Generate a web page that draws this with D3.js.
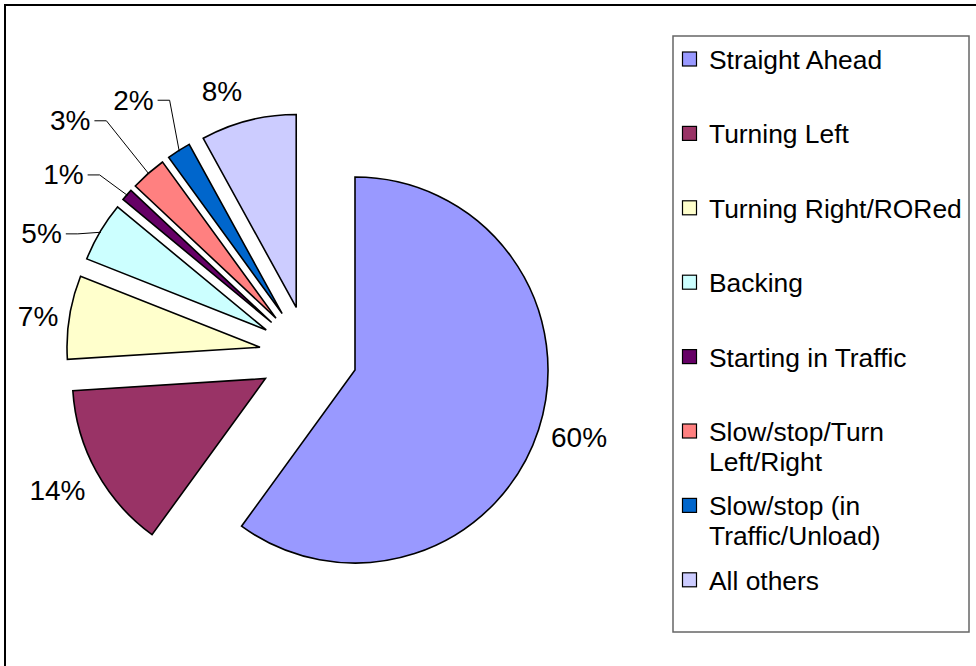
<!DOCTYPE html>
<html>
<head>
<meta charset="utf-8">
<script src="https://cdn.jsdelivr.net/npm/d3@7"></script>
<style>
  body { margin: 0; background: #fff; }
  text { font-family: "Liberation Sans", Arial, sans-serif; fill: #000; }
</style>
</head>
<body>
<svg id="chart" width="976" height="666"></svg>
<script>
// Share of incidents by vehicle manoeuvre (percent)
const categories = [
  "Straight Ahead",
  "Turning Left",
  "Turning Right/RORed",
  "Backing",
  "Starting in Traffic",
  "Slow/stop/Turn Left/Right",
  "Slow/stop (in Traffic/Unload)",
  "All others"
];
const values = [60, 14, 7, 5, 1, 3, 2, 8];
const colors = ["#9999FF", "#993366", "#FFFFCC", "#CCFFFF", "#660066", "#FF8080", "#0066CC", "#CCCCFF"];
const legendLines = [
  ["Straight Ahead"],
  ["Turning Left"],
  ["Turning Right/RORed"],
  ["Backing"],
  ["Starting in Traffic"],
  ["Slow/stop/Turn", "Left/Right"],
  ["Slow/stop (in", "Traffic/Unload)"],
  ["All others"]
];

// Layout
const W = 976, H = 666;
const cx = 308.4, cy = 354.9;   // pie centre before explosion
const radius = 193;
const explode = 49;
// label placement: angle shift (degrees) and distance from pie centre
const labelShift  = [-1, 0.5, -1, -6.2, -5.1, -4.1, -2.1, -3.8];
const labelRadius = [283, 285, 273, 293, 304, 334, 309, 277];
const hasLeader   = [false, false, false, true, true, true, true, false];

const svg = d3.select("#chart");

// outer frame (top and left edges visible)
svg.append("rect")
  .attr("x", 5).attr("y", 5)
  .attr("width", W + 20).attr("height", H + 20)
  .attr("fill", "#fff")
  .attr("stroke", "#000")
  .attr("stroke-width", 2);

const pie = d3.pie().sort(null).value(d => d)
  .startAngle(0).endAngle(2 * Math.PI);
const arcs = pie(values);
const arc = d3.arc().innerRadius(0).outerRadius(radius);

const dir = a => [Math.sin(a), -Math.cos(a)];
const mid = d => (d.startAngle + d.endAngle) / 2;

const g = svg.append("g").attr("transform", `translate(${cx},${cy})`);

g.selectAll("path.slice")
  .data(arcs)
  .join("path")
  .attr("class", "slice")
  .attr("transform", d => {
    const [dx, dy] = dir(mid(d));
    return `translate(${dx * explode},${dy * explode})`;
  })
  .attr("d", arc)
  .attr("fill", (d, i) => colors[i])
  .attr("stroke", "#000")
  .attr("stroke-width", 1.6)
  .attr("stroke-linejoin", "miter");

// data labels
const labelG = g.append("g");
arcs.forEach((d, i) => {
  const a = mid(d) + labelShift[i] * Math.PI / 180;
  const [ux, uy] = dir(a);
  const lx = ux * labelRadius[i], ly = uy * labelRadius[i];
  const t = labelG.append("text")
    .attr("x", lx).attr("y", ly)
    .attr("text-anchor", "middle")
    .attr("dominant-baseline", "central")
    .attr("font-size", 28)
    .text(values[i] + "%");
  if (hasLeader[i]) {
    const half = t.node().getComputedTextLength() / 2;
    const [mx, my] = dir(mid(d));
    const ex = mx * (explode + radius - 1), ey = my * (explode + radius - 1);
    const x0 = lx + half + 4, x1 = x0 + 12;
    labelG.insert("path", "text")
      .attr("d", `M${x0},${ly}L${x1},${ly}L${ex},${ey}`)
      .attr("fill", "none")
      .attr("stroke", "#000")
      .attr("stroke-width", 1);
  }
});

// legend
const legend = svg.append("g");
legend.append("rect")
  .attr("x", 673).attr("y", 36)
  .attr("width", 296).attr("height", 596)
  .attr("fill", "#fff")
  .attr("stroke", "#666")
  .attr("stroke-width", 1.5);

const step = 74.4, base0 = 69;
legendLines.forEach((lines, i) => {
  const by = base0 + i * step;
  legend.append("rect")
    .attr("x", 682.5).attr("y", by - 17)
    .attr("width", 14).attr("height", 14)
    .attr("fill", colors[i])
    .attr("stroke", "#000")
    .attr("stroke-width", 1.2);
  const t = legend.append("text")
    .attr("x", 709).attr("y", by)
    .attr("font-size", 26.4);
  lines.forEach((ln, j) => {
    t.append("tspan").attr("x", 709).attr("y", by + j * 30).text(ln);
  });
});
</script>
</body>
</html>
